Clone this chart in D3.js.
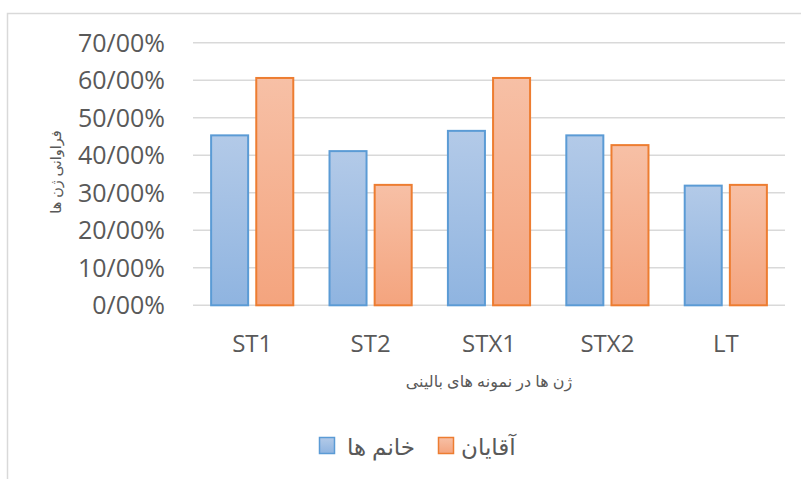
<html>
<head>
<meta charset="utf-8">
<script src="https://cdn.jsdelivr.net/npm/d3@7"></script>
<style>
  body { margin: 0; background: #fff; }
  text { font-family: "Open Sans", "DejaVu Sans", sans-serif; fill: #595959; }
</style>
</head>
<body>
<svg id="chart" width="801" height="479"></svg>
<script>
// data
var genes = ["ST1", "ST2", "STX1", "STX2", "LT"];
var women = [45.3, 41.1, 46.5, 45.3, 31.9];   // خانم ها
var men   = [60.6, 32.1, 60.6, 42.7, 32.1];   // آقایان
var yTicks = [0, 10, 20, 30, 40, 50, 60, 70];
var seriesNames = ["خانم ها", "آقایان"];

var svg = d3.select("#chart");

// chart area border (open on the right like the crop)
svg.append("path")
  .attr("d", "M801,13.5 H7.5 V479")
  .attr("fill", "none")
  .attr("stroke", "#d9d9d9")
  .attr("stroke-width", 1.5);

var plotL = 193, plotR = 785, plotT = 42.7, plotB = 305.3;

var y = d3.scaleLinear().domain([0, 70]).range([plotB, plotT]);
var x0 = d3.scaleBand().domain(genes).range([plotL, plotR]).padding(0);
var x1 = d3.scaleBand().domain(["w", "m"])
  .range([x0.bandwidth() * 0.153, x0.bandwidth() * 0.847])
  .paddingInner(0.18);

var defs = svg.append("defs");
function grad(id, c1, c2) {
  var g = defs.append("linearGradient").attr("id", id)
    .attr("x1", 0).attr("y1", 0).attr("x2", 0).attr("y2", 1);
  g.append("stop").attr("offset", "0%").attr("stop-color", c1);
  g.append("stop").attr("offset", "100%").attr("stop-color", c2);
}
grad("gBlue", "#b3cae8", "#8fb4e0");
grad("gOrange", "#f7c0a6", "#f4a47e");

// gridlines
svg.append("g").selectAll("line")
  .data(yTicks)
  .enter().append("line")
  .attr("x1", plotL).attr("x2", plotR)
  .attr("y1", d => y(d)).attr("y2", d => y(d))
  .attr("stroke", "#d9d9d9")
  .attr("stroke-width", 1.5);

// y tick labels
svg.append("g").selectAll("text")
  .data(yTicks)
  .enter().append("text")
  .attr("x", 165)
  .attr("y", d => y(d))
  .attr("dy", "0.36em")
  .attr("text-anchor", "end")
  .attr("font-size", "25px")
  .text(d => d + "/00%");

// bars
var rows = genes.map((g, i) => ({gene: g, w: women[i], m: men[i]}));
var groups = svg.append("g").selectAll("g")
  .data(rows)
  .enter().append("g")
  .attr("transform", d => "translate(" + x0(d.gene) + ",0)");

groups.append("rect")
  .attr("x", x1("w"))
  .attr("width", x1.bandwidth())
  .attr("y", d => y(d.w))
  .attr("height", d => y(0) - y(d.w))
  .attr("fill", "url(#gBlue)")
  .attr("stroke", "#5b9bd5")
  .attr("stroke-width", 2);

groups.append("rect")
  .attr("x", x1("m"))
  .attr("width", x1.bandwidth())
  .attr("y", d => y(d.m))
  .attr("height", d => y(0) - y(d.m))
  .attr("fill", "url(#gOrange)")
  .attr("stroke", "#ed7d31")
  .attr("stroke-width", 2);

// category labels
svg.append("g").selectAll("text")
  .data(genes)
  .enter().append("text")
  .attr("x", d => x0(d) + x0.bandwidth() / 2)
  .attr("y", 352)
  .attr("text-anchor", "middle")
  .attr("font-size", "24px")
  .text(d => d);

// axis titles
svg.append("text")
  .attr("transform", "translate(61,172) rotate(-90)")
  .attr("text-anchor", "middle")
  .attr("font-size", "14.5px")
  .attr("direction", "rtl")
  .text("فراوانی ژن ها");

svg.append("text")
  .attr("x", 489)
  .attr("y", 387)
  .attr("text-anchor", "middle")
  .attr("font-size", "16px")
  .attr("direction", "rtl")
  .text("ژن ها در نمونه های بالینی");

// legend
var legend = [
  {name: seriesNames[0], fill: "url(#gBlue)", stroke: "#5b9bd5", bx: 319.5, tx: 347},
  {name: seriesNames[1], fill: "url(#gOrange)", stroke: "#ed7d31", bx: 438.5, tx: 461}
];
var lg = svg.append("g").selectAll("g").data(legend).enter().append("g");
lg.append("rect")
  .attr("x", d => d.bx).attr("y", 437.5)
  .attr("width", 15).attr("height", 16)
  .attr("fill", d => d.fill)
  .attr("stroke", d => d.stroke)
  .attr("stroke-width", 1.5);
lg.append("text")
  .attr("x", d => d.tx)
  .attr("y", 455)
  .attr("font-size", "23px")
  .text(d => d.name);
</script>
</body>
</html>
